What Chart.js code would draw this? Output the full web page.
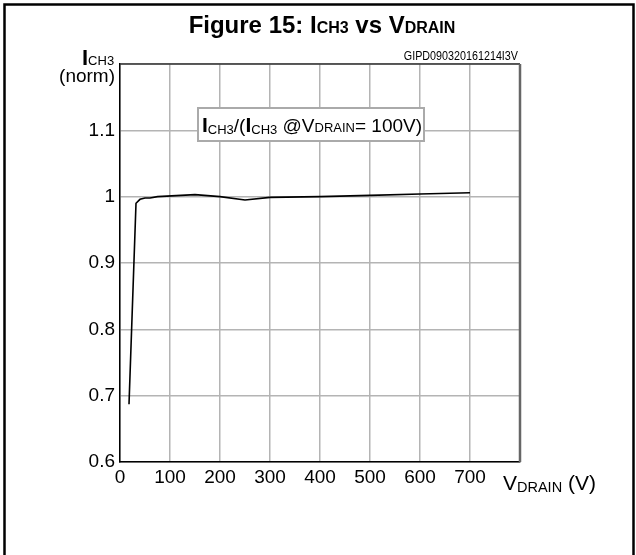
<!DOCTYPE html>
<html>
<head>
<meta charset="utf-8">
<script src="https://cdn.jsdelivr.net/npm/chart.js"></script>
<style>
  body { margin: 0; background: #fff; }
  #wrap { width: 636px; height: 555px; }
</style>
</head>
<body>
<div id="wrap"><canvas id="myChart" width="636" height="555"></canvas></div>
<script>
// values
const vDrain = [18, 32, 40, 50, 60, 75, 150, 200, 250, 300, 400, 500, 600, 700];
const iNorm = [0.687, 0.99, 0.996, 0.998, 0.998, 1.0, 1.003, 1.0, 0.995, 0.999, 1.0, 1.002, 1.004, 1.006];
const xTicks = [0, 100, 200, 300, 400, 500, 600, 700];
const yTicks = [0.6, 0.7, 0.8, 0.9, 1, 1.1];

const FONT = "'Liberation Sans', Arial, Helvetica, sans-serif";

// draws a row of text parts with different sizes (for subscripts)
function drawRich(ctx, x, y, parts, align) {
  let total = 0;
  parts.forEach((p) => {
    ctx.font = p.font;
    p.w = ctx.measureText(p.t).width;
    total += p.w;
  });
  let cx = x;
  if (align == "center") cx = x - total / 2;
  if (align == "right") cx = x - total;
  ctx.textAlign = "left";
  ctx.textBaseline = "alphabetic";
  parts.forEach((p) => {
    ctx.font = p.font;
    ctx.fillText(p.t, cx, y + (p.dy || 0));
    cx += p.w;
  });
  return total;
}

const decor = {
  id: "decor",
  afterDraw(chart) {
    const ctx = chart.ctx;
    const a = chart.chartArea;
    ctx.save();
    ctx.fillStyle = "#000";

    // frame around the figure
    ctx.strokeStyle = "#000";
    ctx.lineWidth = 2.5;
    ctx.strokeRect(4.5, 4.5, 629, 600);

    // top and right plot border
    ctx.strokeStyle = "#333";
    ctx.lineWidth = 1.5;
    ctx.beginPath();
    ctx.moveTo(a.left, a.top);
    ctx.lineTo(a.right, a.top);
    ctx.stroke();
    ctx.strokeStyle = "#666";
    ctx.lineWidth = 2.5;
    ctx.beginPath();
    ctx.moveTo(a.right, a.top);
    ctx.lineTo(a.right, a.bottom);
    ctx.stroke();

    // title
    drawRich(ctx, 322, 33, [
      { t: "Figure 15: I", font: "bold 24px " + FONT },
      { t: "CH3", font: "bold 16px " + FONT },
      { t: " vs V", font: "bold 24px " + FONT },
      { t: "DRAIN", font: "bold 16px " + FONT },
    ], "center");

    // figure code (narrow print)
    ctx.save();
    ctx.translate(518, 60);
    ctx.scale(0.86, 1);
    ctx.font = "12.5px " + FONT;
    ctx.textAlign = "right";
    ctx.fillText("GIPD090320161214I3V", 0, 0);
    ctx.restore();

    // y axis title
    drawRich(ctx, 82, 65, [
      { t: "I", font: "bold 22px " + FONT },
      { t: "CH3", font: "13px " + FONT },
    ], "left");
    ctx.font = "19px " + FONT;
    ctx.textAlign = "right";
    ctx.fillText("(norm)", 115, 82);

    // x axis title
    drawRich(ctx, 503, 490, [
      { t: "V", font: "21px " + FONT },
      { t: "DRAIN", font: "14.5px " + FONT, dy: 2 },
      { t: " (V)", font: "21px " + FONT },
    ], "left");

    // annotation box
    ctx.fillStyle = "#fff";
    ctx.fillRect(198, 108, 226, 33);
    ctx.strokeStyle = "#aaa";
    ctx.lineWidth = 2;
    ctx.strokeRect(198, 108, 226, 33);
    ctx.fillStyle = "#000";
    drawRich(ctx, 312, 132, [
      { t: "I", font: "bold 21px " + FONT },
      { t: "CH3", font: "13px " + FONT, dy: 2 },
      { t: "/(", font: "19px " + FONT },
      { t: "I", font: "bold 21px " + FONT },
      { t: "CH3", font: "13px " + FONT, dy: 2 },
      { t: " @V", font: "19px " + FONT },
      { t: "DRAIN", font: "13px " + FONT },
      { t: "= 100V)", font: "19px " + FONT },
    ], "center");

    ctx.restore();
  },
};

new Chart(document.getElementById("myChart"), {
  type: "line",
  data: {
    datasets: [
      {
        data: vDrain.map((v, i) => ({ x: v, y: iNorm[i] })),
        borderColor: "#000",
        borderWidth: 1.6,
        pointRadius: 0,
        tension: 0,
        fill: false,
      },
    ],
  },
  options: {
    responsive: false,
    animation: false,
    events: [],
    layout: { padding: { left: 0, top: 64, right: 116, bottom: 0 } },
    plugins: { legend: { display: false }, tooltip: { enabled: false } },
    scales: {
      x: {
        type: "linear",
        min: 0,
        max: 800,
        afterBuildTicks: (s) => {
          s.ticks = xTicks.concat([800]).map((v) => ({ value: v }));
        },
        afterFit: (s) => {
          s.height = 93;
        },
        ticks: {
          padding: 4,
          color: "#000",
          font: { family: FONT, size: 19 },
          callback: (v) => (xTicks.includes(v) ? String(v) : ""),
        },
        grid: { color: "#b4b4b4", lineWidth: 1.5, drawTicks: false },
        border: { color: "#000", width: 1.5 },
      },
      y: {
        min: 0.6,
        max: 1.2,
        afterBuildTicks: (s) => {
          s.ticks = yTicks.concat([1.2]).map((v) => ({ value: v }));
        },
        afterFit: (s) => {
          s.width = 120;
        },
        ticks: {
          padding: 5,
          color: "#000",
          font: { family: FONT, size: 19 },
          callback: (v) => {
            let r = Math.round(v * 10) / 10;
            return yTicks.includes(r) ? String(r) : "";
          },
        },
        grid: { color: "#b4b4b4", lineWidth: 1.5, drawTicks: false },
        border: { color: "#000", width: 1.5 },
      },
    },
  },
  plugins: [decor],
});
</script>
</body>
</html>
